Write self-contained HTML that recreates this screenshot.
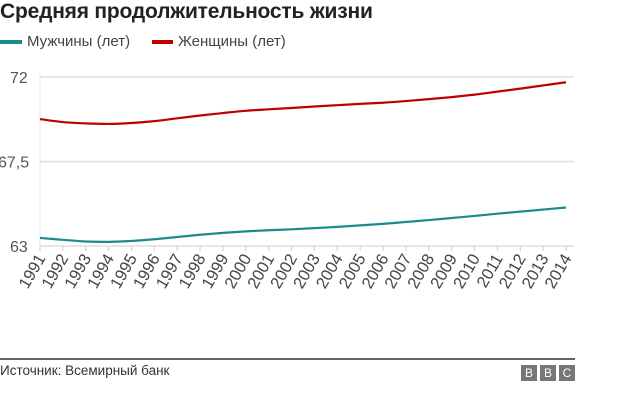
<!DOCTYPE html>
<html><head><meta charset="utf-8"><style>
body{margin:0;width:640px;height:418px;background:#fff;font-family:"Liberation Sans","Noto Sans CJK SC",sans-serif;overflow:hidden;position:relative}
</style></head><body>
<div style="position:absolute;left:0;top:0px;font-size:21px;font-weight:bold;color:#222;letter-spacing:-0.2px">Средняя продолжительность жизни</div>
<div style="position:absolute;left:0;top:33px;font-size:15px;color:#444">
 <span style="display:inline-block;width:22px;height:4px;background:#1a8b8b;vertical-align:middle;margin-right:5px"></span>Мужчины (лет)</div>
<div style="position:absolute;left:152px;top:33px;font-size:15px;color:#444">
 <span style="display:inline-block;width:21px;height:4px;background:#c00000;vertical-align:middle;margin-right:5px"></span>Женщины (лет)</div>
<svg id="chart" width="640" height="418" style="position:absolute;left:0;top:0"></svg>
<div style="position:absolute;left:0;top:358px;width:575px;height:2px;background:#666"></div>
<div style="position:absolute;left:0;top:363px;font-size:13.5px;color:#333">Источник: Всемирный банк</div>
<div style="position:absolute;left:521px;top:365px;display:flex;gap:3px">
 <div style="width:16px;height:16px;background:#777;color:#fff;font-size:12px;text-align:center;line-height:16px">B</div>
 <div style="width:16px;height:16px;background:#777;color:#fff;font-size:12px;text-align:center;line-height:16px">B</div>
 <div style="width:16px;height:16px;background:#777;color:#fff;font-size:12px;text-align:center;line-height:16px">C</div>
</div>
<script>
const years=[1991,1992,1993,1994,1995,1996,1997,1998,1999,2000,2001,2002,2003,2004,2005,2006,2007,2008,2009,2010,2011,2012,2013,2014];
const women=[69.76,69.6,69.53,69.5,69.55,69.65,69.8,69.95,70.08,70.2,70.28,70.35,70.43,70.5,70.57,70.63,70.72,70.82,70.93,71.06,71.22,71.38,71.55,71.72];
const men=[63.43,63.33,63.24,63.22,63.27,63.36,63.48,63.6,63.7,63.78,63.84,63.89,63.95,64.02,64.1,64.18,64.28,64.38,64.49,64.6,64.72,64.83,64.94,65.05];
const yTicks=[63,67.5,72];
const yTickLabels=["63","67,5","72"];
const svg=document.getElementById('chart');
const NS='http://www.w3.org/2000/svg';
const x0=40,x1=566,yTop=77,yBot=246,yMin=63,yMax=72;
const xs=i=>x0+(x1-x0)*i/(years.length-1);
const ys=v=>yBot-(v-yMin)/(yMax-yMin)*(yBot-yTop);
function mk(t,a){const e=document.createElementNS(NS,t);for(const k in a)e.setAttribute(k,a[k]);svg.appendChild(e);return e;}
yTicks.forEach((t,i)=>{
 const g=mk('line',{x1:x0,x2:574,y1:ys(t),y2:ys(t),stroke:'#ddd','stroke-width':1.5});
 
 
 const l=mk('text',{x:i==1?-2:10,y:ys(t)+6,'font-size':16,fill:'#555'});
 l.textContent=yTickLabels[i];
 
 
});
const ax=mk('line',{x1:x0,x2:x0,y1:yTop-3,y2:yBot,stroke:'#e4e4e4','stroke-width':1});


years.forEach((y,i)=>{
 const tk=mk('line',{x1:xs(i),x2:xs(i),y1:yBot,y2:yBot+5,stroke:'#ccc'});
 
 
 const t=mk('text',{'font-size':16.5,fill:'#444','text-anchor':'end',transform:`translate(${xs(i)+6},${yBot+12}) rotate(-60)`});
 t.textContent=y;
 
 
});
function path(vals){
 const p=vals.map((v,i)=>[xs(i),ys(v)]);
 let d=`M${p[0][0]},${p[0][1]}`;
 for(let i=0;i<p.length-1;i++){
  const a=p[Math.max(0,i-1)],b=p[i],c=p[i+1],e=p[Math.min(p.length-1,i+2)];
  d+=` C${b[0]+(c[0]-a[0])/6},${b[1]+(c[1]-a[1])/6} ${c[0]-(e[0]-b[0])/6},${c[1]-(e[1]-b[1])/6} ${c[0]},${c[1]}`;
 }
 return d;
}
const lw=mk('path',{d:path(women),fill:'none',stroke:'#c00000','stroke-width':2.2});


const lm=mk('path',{d:path(men),fill:'none',stroke:'#1a8b8b','stroke-width':2.2});


</script>
</body></html>
